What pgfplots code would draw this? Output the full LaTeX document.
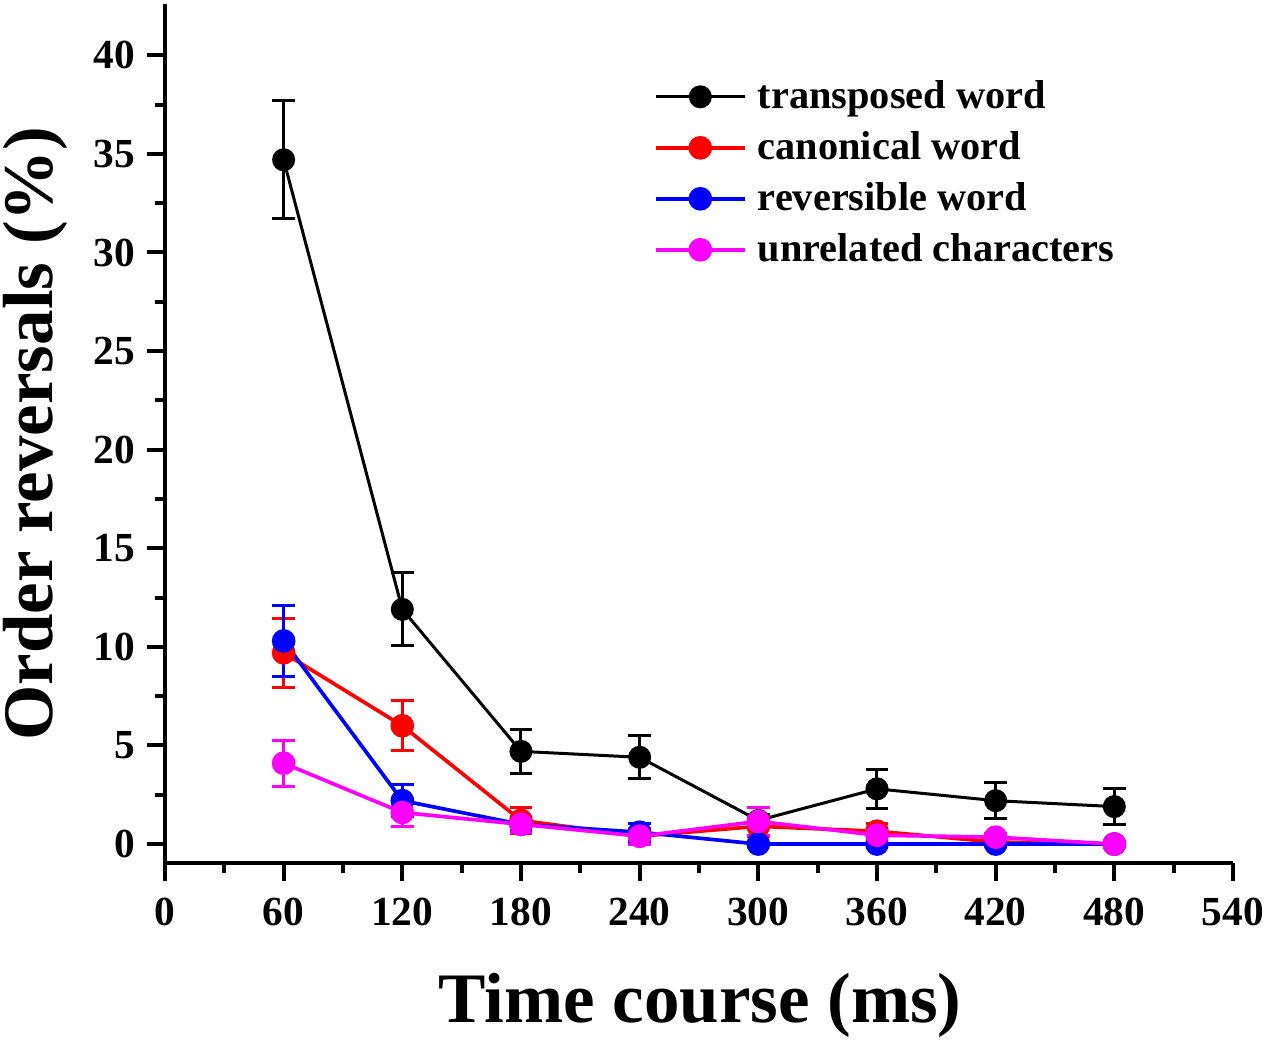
\documentclass[border=0pt]{standalone}
\usepackage{pgfplots}
\pgfplotsset{compat=1.18}
\usepackage{pgfplotstable}
\usepackage{fontspec}
\setmainfont{Liberation Serif}
\definecolor{mag}{RGB}{255,0,255}
\definecolor{rd}{RGB}{255,0,0}
\definecolor{bl}{RGB}{0,0,255}

\pgfplotstableread{
x y e
60 34.7 3.0
120 11.9 1.85
180 4.7 1.1
240 4.4 1.1
300 1.2 0.3
360 2.8 1.0
420 2.2 0.9
480 1.9 0.9
}\transposed
\pgfplotstableread{
x y e
60 9.7 1.75
120 6.0 1.28
180 1.2 0.65
240 0.4 0.3
300 0.9 0.5
360 0.65 0.4
420 0.1 0.2
480 0 0
}\canonical
\pgfplotstableread{
x y e
60 10.3 1.8
120 2.2 0.8
180 1.0 0.3
240 0.6 0.45
300 0 0
360 0 0
420 0 0
480 0 0
}\reversible
\pgfplotstableread{
x y e
60 4.1 1.17
120 1.6 0.7
180 1.0 0.4
240 0.4 0.4
300 1.15 0.7
360 0.45 0.3
420 0.35 0.2
480 0 0
}\unrelated

\begin{document}
\begin{tikzpicture}
\begin{axis}[
  name=ax,
  scale only axis,
  width=320.4pt, height=257.7pt,
  xmin=0, xmax=540, ymin=-0.96, ymax=42.6,
  axis lines*=left,
  axis line style={line width=1.2pt},
  xtick={0,60,...,540}, ytick={0,5,...,40},
  minor tick num=1,
  tick align=outside,
  major tick length=5.4pt, minor tick length=2.9pt,
  major tick style={line width=1.2pt, black},
  minor tick style={line width=1.2pt, black},
  /pgf/number format/assume math mode=true,
  ticklabel style={font=\fontsize{12.4}{14}\selectfont\bfseries},
  xticklabel style={yshift=-1.5pt},
  xlabel={Time course (ms)},
  ylabel={Order reversals (\%)},
  label style={font=\fontsize{21.3}{25}\selectfont\bfseries},
  xlabel style={at={(axis description cs:0.501,-0.166)}, anchor=center},
  ylabel style={at={(axis description cs:-0.1217,0.5)}, anchor=center},
  clip=false,
  legend cell align=left,
  legend style={draw=none, fill=none, font=\fontsize{12.1}{14}\selectfont\bfseries,
    at={(axis cs:247,39.1)}, anchor=north west, row sep=1.4pt, inner sep=0pt,
    nodes={inner xsep=3.4pt}},
  legend image code/.code={\draw[mark repeat=2,mark phase=2] plot coordinates {(0pt,0pt)(13.3pt,0pt)(26.6pt,0pt)};},
  every axis plot/.append style={mark=*, mark size=3pt, line width=0.9pt},
  error bars/y dir=both, error bars/y explicit,
  error bars/error bar style={line width=0.9pt},
  error bars/error mark options={rotate=90, mark size=3.4pt, line width=0.9pt},
]
\addplot[black, mark options={fill=black}] table[x=x,y=y,y error=e] {\transposed};
\addlegendentry{transposed word}
\addplot[rd, line width=1.1pt, mark options={fill=rd}] table[x=x,y=y,y error=e] {\canonical};
\addlegendentry{canonical word}
\addplot[bl, line width=1.1pt, mark options={fill=bl}] table[x=x,y=y,y error=e] {\reversible};
\addlegendentry{reversible word}
\addplot[mag, line width=1.1pt, mark options={fill=mag}] table[x=x,y=y,y error=e] {\unrelated};
\addlegendentry{unrelated characters}
\end{axis}
\pgfresetboundingbox
\path (ax.south west) ++(-49.5pt,-53.7pt) coordinate (bl);
\path (ax.south west) ++(330.6pt,258.9pt) coordinate (tr);
\useasboundingbox (bl) rectangle (tr);
\end{tikzpicture}
\end{document}
